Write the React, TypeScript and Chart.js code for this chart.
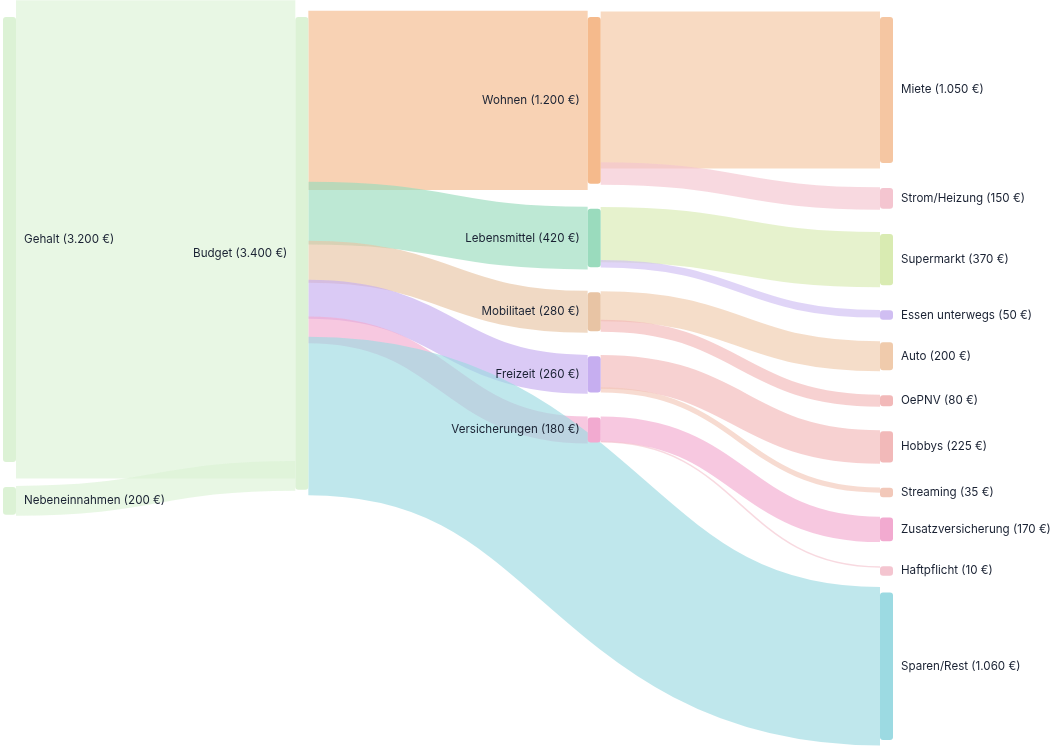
import React, { useEffect, useRef } from 'react';
import { Chart, registerables } from 'chart.js';

Chart.register(...registerables);

// Budget nodes, in stacking order per column
const nodeNames = [
  'Gehalt', 'Nebeneinnahmen',
  'Budget',
  'Wohnen', 'Lebensmittel', 'Mobilitaet', 'Freizeit', 'Versicherungen',
  'Miete', 'Strom/Heizung', 'Supermarkt', 'Essen unterwegs', 'Auto', 'OePNV',
  'Hobbys', 'Streaming', 'Zusatzversicherung', 'Haftpflicht', 'Sparen/Rest',
];
const nodeColumns = [0, 0, 1, 2, 2, 2, 2, 2, 3, 3, 3, 3, 3, 3, 3, 3, 3, 3, 3];
const nodeColors = [
  '#dcf2d5', '#dcf2d5',
  '#dcf2d5',
  '#f5ba8c', '#9adbbd', '#e8c4a4', '#c6aef0', '#f2aad0',
  '#f5c6a2', '#f4c5d0', '#d9ebb2', '#d0bef2', '#f0cbac', '#f2b9b9',
  '#f2b9b9', '#f2c8b9', '#f2aad0', '#f4c5d0', '#9cdae2',
];

// Money flows (€ per month)
const flowFrom = [
  'Gehalt', 'Nebeneinnahmen',
  'Budget', 'Budget', 'Budget', 'Budget', 'Budget', 'Budget',
  'Wohnen', 'Wohnen', 'Lebensmittel', 'Lebensmittel', 'Mobilitaet', 'Mobilitaet',
  'Freizeit', 'Freizeit', 'Versicherungen', 'Versicherungen',
];
const flowTo = [
  'Budget', 'Budget',
  'Wohnen', 'Lebensmittel', 'Mobilitaet', 'Freizeit', 'Versicherungen', 'Sparen/Rest',
  'Miete', 'Strom/Heizung', 'Supermarkt', 'Essen unterwegs', 'Auto', 'OePNV',
  'Hobbys', 'Streaming', 'Zusatzversicherung', 'Haftpflicht',
];
const flowValues = [
  3200, 200,
  1200, 420, 280, 260, 180, 1060,
  1050, 150, 370, 50, 200, 80,
  225, 35, 170, 10,
];

const NODE_GAP = 180; // vertical gap between nodes, in € units
const NODE_WIDTH = 13;
const MIN_NODE_PX = 9.5;
const FLOW_ALPHA = 0.65;
const FLOW_WIDTH_SCALE = 1.075;
const LABEL_COLOR = '#1a2233';
const LABEL_FONT = '11.6px Inter, "Noto Sans", sans-serif';

function formatEuro(v: number): string {
  return String(v).replace(/\B(?=(\d{3})+(?!\d))/g, '.') + ' €';
}

function withAlpha(hex: string, a: number): string {
  const n = parseInt(hex.slice(1), 16);
  return `rgba(${(n >> 16) & 255},${(n >> 8) & 255},${n & 255},${a})`;
}

// Node sizes and stacked positions in value space
const nodeIndex = (name: string) => nodeNames.indexOf(name);
const nodeValues = nodeNames.map((name) => {
  let inSum = 0;
  let outSum = 0;
  flowValues.forEach((v, i) => {
    if (flowTo[i] === name) inSum += v;
    if (flowFrom[i] === name) outSum += v;
  });
  return Math.max(inSum, outSum);
});
const nodeTops: number[] = [];
const columnCursor: number[] = [];
nodeNames.forEach((_, i) => {
  const c = nodeColumns[i];
  const y = columnCursor[c] ?? 0;
  nodeTops[i] = y;
  columnCursor[c] = y + nodeValues[i] + NODE_GAP;
});
const yMax = Math.max(...columnCursor) - NODE_GAP;
const lastColumn = Math.max(...nodeColumns);

const sankeyPlugin = {
  id: 'sankeyDraw',
  afterDatasetsDraw(chart: any) {
    const ctx: CanvasRenderingContext2D = chart.ctx;
    const xs = chart.scales.x;
    const ys = chart.scales.y;
    const k = Math.abs(ys.getPixelForValue(1) - ys.getPixelForValue(0));

    ctx.save();

    // flows: thick stroked curves between node sides
    const outOffset = nodeNames.map(() => 0);
    const inOffset = nodeNames.map(() => 0);
    ctx.lineCap = 'butt';
    flowValues.forEach((v, i) => {
      const s = nodeIndex(flowFrom[i]);
      const t = nodeIndex(flowTo[i]);
      const sy = ys.getPixelForValue(nodeTops[s] + outOffset[s] + v / 2);
      const ty = ys.getPixelForValue(nodeTops[t] + inOffset[t] + v / 2);
      outOffset[s] += v;
      inOffset[t] += v;
      const x0 = xs.getPixelForValue(nodeColumns[s]) + NODE_WIDTH;
      const x1 = xs.getPixelForValue(nodeColumns[t]);
      const xm = (x0 + x1) / 2;
      ctx.beginPath();
      ctx.moveTo(x0, sy);
      ctx.bezierCurveTo(xm, sy, xm, ty, x1, ty);
      ctx.lineWidth = v * k * FLOW_WIDTH_SCALE;
      ctx.strokeStyle = withAlpha(nodeColors[t], FLOW_ALPHA);
      ctx.stroke();
    });

    // nodes and labels
    ctx.font = LABEL_FONT;
    ctx.textBaseline = 'middle';
    nodeNames.forEach((name, i) => {
      const x = xs.getPixelForValue(nodeColumns[i]);
      const top = ys.getPixelForValue(nodeTops[i]);
      const h = Math.max(nodeValues[i] * k, MIN_NODE_PX);
      ctx.beginPath();
      ctx.roundRect(x, top, NODE_WIDTH, h, 3);
      ctx.fillStyle = nodeColors[i];
      ctx.fill();

      const label = `${name} (${formatEuro(nodeValues[i])})`;
      ctx.fillStyle = LABEL_COLOR;
      const cy = top + h / 2;
      if (nodeColumns[i] === 0 || nodeColumns[i] === lastColumn) {
        ctx.textAlign = 'left';
        ctx.fillText(label, x + NODE_WIDTH + 8, cy);
      } else {
        ctx.textAlign = 'right';
        ctx.fillText(label, x - 8, cy);
      }
    });

    ctx.restore();
  },
};

export default function App() {
  const canvasRef = useRef<HTMLCanvasElement | null>(null);

  useEffect(() => {
    const canvas = canvasRef.current;
    if (!canvas) return;
    const chart = new Chart(canvas, {
      type: 'scatter',
      data: {
        datasets: [
          {
            data: nodeNames.map((_, i) => ({
              x: nodeColumns[i],
              y: nodeTops[i] + nodeValues[i] / 2,
            })),
            pointRadius: 0,
            pointHoverRadius: 0,
          },
        ],
      },
      options: {
        responsive: false,
        animation: false,
        devicePixelRatio: 1,
        layout: { padding: { left: 3, right: 172, top: 17, bottom: 7 } },
        plugins: { legend: { display: false }, tooltip: { enabled: false } },
        events: [],
        scales: {
          x: { type: 'linear', min: 0, max: lastColumn, display: false },
          y: { type: 'linear', min: 0, max: yMax, reverse: true, display: false },
        },
      },
      plugins: [sankeyPlugin],
    });
    return () => chart.destroy();
  }, []);

  return (
    <div style={{ position: 'fixed', left: 0, top: 0, width: 1052, height: 747, background: '#ffffff' }}>
      <canvas ref={canvasRef} width={1052} height={747} style={{ display: 'block' }} />
    </div>
  );
}
